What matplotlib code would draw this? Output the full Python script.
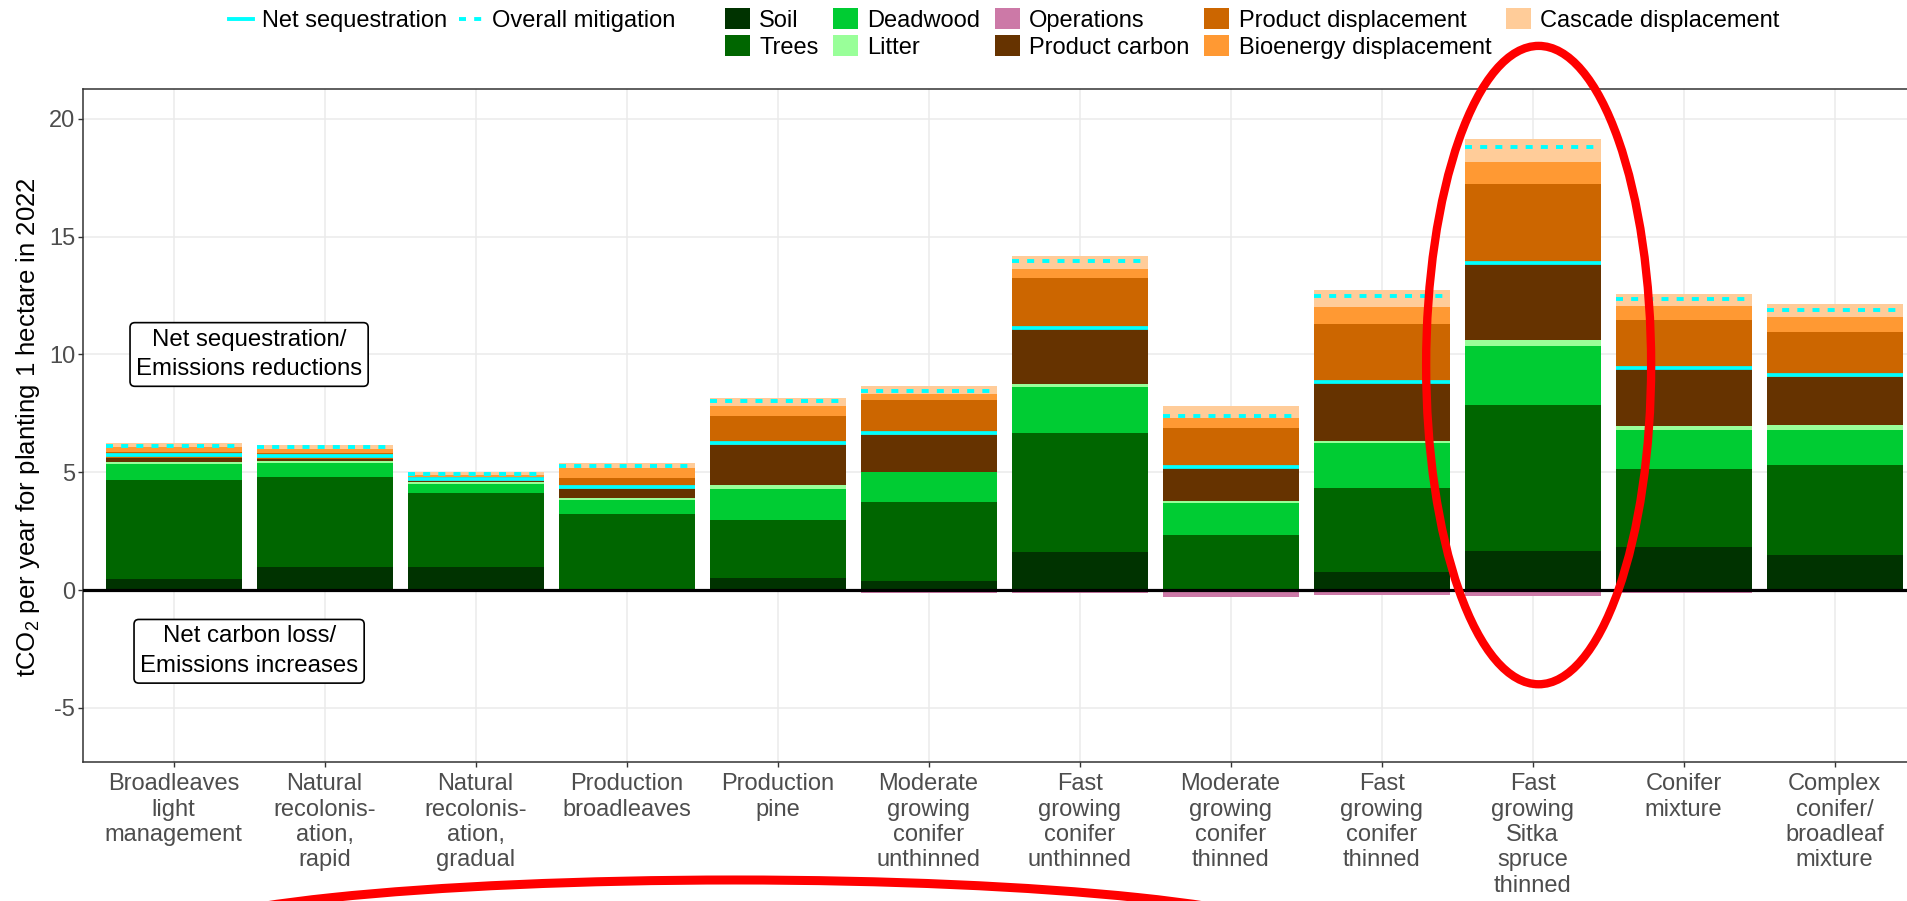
import matplotlib
matplotlib.use('Agg')
import matplotlib.pyplot as plt
import numpy as np
from matplotlib.lines import Line2D
from matplotlib.patches import Patch, Ellipse

plt.rcParams['font.family'] = ['Liberation Sans', 'DejaVu Sans']
plt.rcParams['mathtext.fontset'] = 'custom'
plt.rcParams['mathtext.rm'] = 'Liberation Sans'
plt.rcParams['mathtext.default'] = 'rm'

# ---------------- data (tCO2 per year per hectare) ----------------
categories = [
    "Broadleaves\nlight\nmanagement",
    "Natural\nrecolonis-\nation,\nrapid",
    "Natural\nrecolonis-\nation,\ngradual",
    "Production\nbroadleaves",
    "Production\npine",
    "Moderate\ngrowing\nconifer\nunthinned",
    "Fast\ngrowing\nconifer\nunthinned",
    "Moderate\ngrowing\nconifer\nthinned",
    "Fast\ngrowing\nconifer\nthinned",
    "Fast\ngrowing\nSitka\nspruce\nthinned",
    "Conifer\nmixture",
    "Complex\nconifer/\nbroadleaf\nmixture",
]
soil = [0.48, 0.96, 0.96, 0.05, 0.52, 0.38, 1.60, 0.05, 0.76, 1.66, 1.84, 1.50]
trees = [4.18, 3.84, 3.16, 3.18, 2.45, 3.37, 5.08, 2.30, 3.56, 6.18, 3.28, 3.79]
deadwood = [0.70, 0.61, 0.37, 0.59, 1.32, 1.25, 1.94, 1.33, 1.91, 2.52, 1.67, 1.50]
litter = [0.09, 0.08, 0.10, 0.07, 0.17, 0.03, 0.13, 0.10, 0.11, 0.26, 0.19, 0.20]
product_carbon = [0.17, 0.07, 0.05, 0.39, 1.70, 1.55, 2.32, 1.40, 2.44, 3.22, 2.39, 2.07]
product_displacement = [0.24, 0.24, 0.17, 0.46, 1.23, 1.49, 2.19, 1.69, 2.52, 3.39, 2.11, 1.88]
bioenergy_displacement = [0.20, 0.17, 0.07, 0.45, 0.43, 0.24, 0.36, 0.42, 0.72, 0.96, 0.59, 0.65]
cascade_displacement = [0.20, 0.19, 0.13, 0.19, 0.34, 0.35, 0.58, 0.51, 0.72, 0.95, 0.51, 0.54]
operations = [-0.05, -0.03, -0.03, -0.03, -0.05, -0.11, -0.11, -0.28, -0.23, -0.25, -0.14, -0.08]
net_sequestration = [5.72, 5.69, 4.73, 4.36, 6.24, 6.67, 11.13, 5.22, 8.83, 13.90, 9.41, 9.12]
overall_mitigation = [6.13, 6.06, 4.94, 5.28, 8.04, 8.46, 13.96, 7.40, 12.47, 18.82, 12.36, 11.88]

y_ticks = [-5, 0, 5, 10, 15, 20]
highlight = "Fast\ngrowing\nSitka\nspruce\nthinned"

pos_series = [
    ("Soil", soil, "#003300"),
    ("Trees", trees, "#006600"),
    ("Deadwood", deadwood, "#00CC33"),
    ("Litter", litter, "#99FF99"),
    ("Product carbon", product_carbon, "#663300"),
    ("Product displacement", product_displacement, "#CC6600"),
    ("Bioenergy displacement", bioenergy_displacement, "#FF9933"),
    ("Cascade displacement", cascade_displacement, "#FFCC99"),
]
ops_color = "#CC79A7"
cyan = "#00FFFF"

# ---------------- figure ----------------
W, H = 1908, 901
fig = plt.figure(figsize=(W / 100, H / 100), dpi=100)
ax_left, ax_top, ax_bottom = 83, 89, 762
x_unit = 151
xlim = (0.4, 12.6)
ax_w = (xlim[1] - xlim[0]) * x_unit
ax = fig.add_axes([ax_left / W, (H - ax_bottom) / H, ax_w / W, (ax_bottom - ax_top) / H])

x = np.arange(1, len(categories) + 1)
bw = 0.9
bottom = np.zeros(len(x))
for name, vals, col in pos_series:
    vals = np.array(vals)
    ax.bar(x, vals, bottom=bottom, width=bw, color=col, linewidth=0, zorder=2)
    bottom += vals
ax.bar(x, operations, width=bw, color=ops_color, linewidth=0, zorder=2)

ax.axhline(0, color="black", lw=2.3, zorder=3)
ax.hlines(net_sequestration, x - bw / 2, x + bw / 2, colors=cyan, lw=2.7, zorder=4)
ax.hlines(overall_mitigation, x - bw / 2, x + bw / 2, colors=cyan, lw=2.8,
          linestyles=(0, (1.8, 2.1)), zorder=4)

ax.set_xlim(*xlim)
ax.set_ylim(-7.3, 21.27)
ax.set_yticks(y_ticks)
ax.set_yticklabels([str(t) for t in y_ticks])
ax.set_xticks(x)
ax.set_xticklabels(categories, linespacing=1.2)
ax.grid(True, color="#EBEBEB", lw=1.1, zorder=0)
ax.set_axisbelow(True)
for s in ax.spines.values():
    s.set_color("#333333")
    s.set_linewidth(1.1)
ax.tick_params(axis="both", colors="#333333", labelcolor="#4D4D4D", labelsize=17,
               length=3.5, width=1.0, pad=2)
ax.tick_params(axis="x", pad=4.5)

fig.text(28 / W, 1 - 427 / H, r"tCO$_2$ per year for planting 1 hectare in 2022",
         rotation=90, ha="center", va="center", fontsize=18.5, color="black")

box = dict(boxstyle="round,pad=0.25,rounding_size=0.2", fc="white", ec="black", lw=1.2)
ax.text(1.5, 10.0, "Net sequestration/\nEmissions reductions", ha="center", va="center",
        fontsize=17.3, linespacing=1.45, bbox=box, zorder=5)
ax.text(1.5, -2.6, "Net carbon loss/\nEmissions increases", ha="center", va="center",
        fontsize=17.3, linespacing=1.45, bbox=box, zorder=5)

# ---------------- legends ----------------
line_handles = [Line2D([], [], color=cyan, lw=2.8),
                Line2D([], [], color=cyan, lw=2.8, linestyle=(0, (1.8, 2.1)))]
leg1 = fig.legend(line_handles, ["Net sequestration", "Overall mitigation"],
                  loc="center left", bbox_to_anchor=(229 / W, 1 - 21 / H), ncol=2,
                  frameon=False, fontsize=17, handlelength=1.0, handletextpad=0.4,
                  columnspacing=0.5, borderpad=0, borderaxespad=0)
patch_labels = ["Soil", "Trees", "Deadwood", "Litter", "Operations", "Product carbon",
                "Product displacement", "Bioenergy displacement", "Cascade displacement"]
patch_colors = ["#003300", "#006600", "#00CC33", "#99FF99", ops_color, "#663300",
                "#CC6600", "#FF9933", "#FFCC99"]
patch_handles = [Patch(facecolor=c, edgecolor="none") for c in patch_colors]
leg2 = fig.legend(patch_handles, patch_labels, loc="upper left",
                  bbox_to_anchor=(725 / W, 1 - 8 / H), ncol=5, frameon=False, fontsize=17,
                  handlelength=1.05, handleheight=1.0, handletextpad=0.4,
                  columnspacing=0.62, labelspacing=0.15, borderpad=0, borderaxespad=0)

# ---------------- red highlight ellipses ----------------
i_hl = categories.index(highlight)
ax.add_patch(Ellipse((x[i_hl] + 0.04, 9.55), 1.49, 27.1, fill=False, ec="red",
                     lw=6, clip_on=False, zorder=6))
ov = fig.add_axes([0, 0, 1, 1], facecolor="none")
ov.set_xlim(0, W)
ov.set_ylim(H, 0)
ov.axis("off")
ov.add_patch(Ellipse((735, 940), 1140, 120, fill=False, ec="red", lw=6.5, clip_on=True))

fig.savefig("out.png", dpi=100)
